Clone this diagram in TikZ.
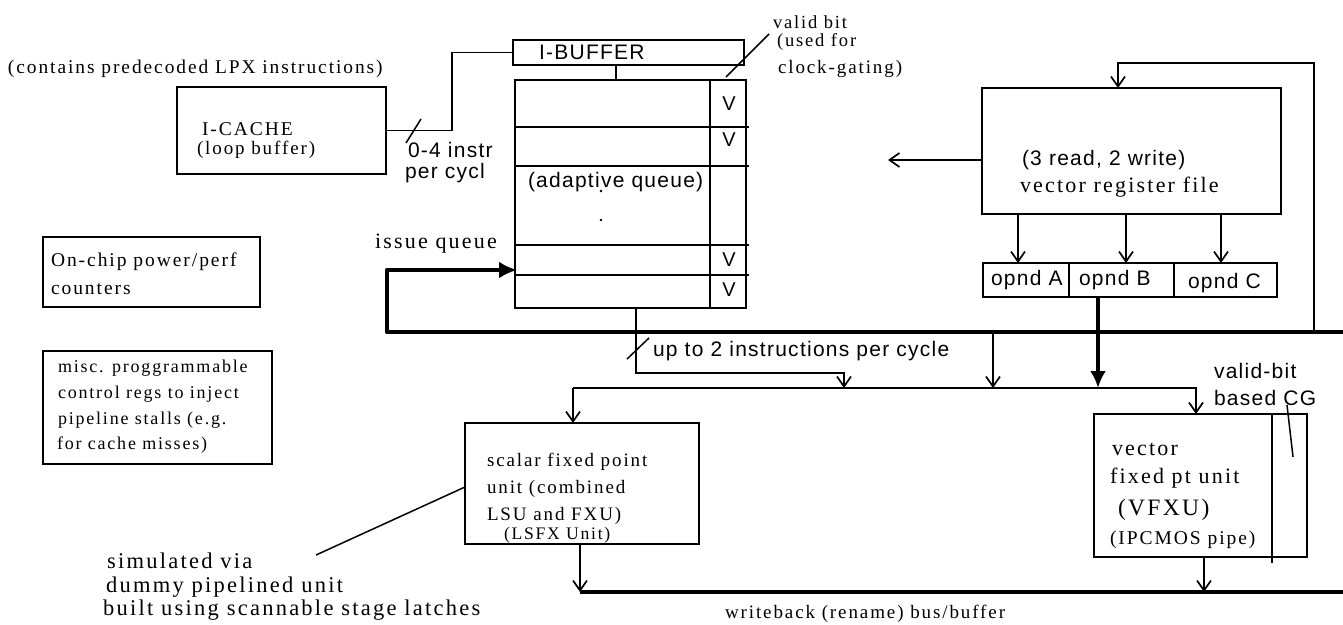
\documentclass[tikz,border=0pt]{standalone}
\usepackage{fontspec}
\setmainfont{Liberation Serif}[LetterSpace=10]
\setsansfont{Liberation Sans}[LetterSpace=6]
\usetikzlibrary{arrows.meta}
\newcommand{\myfs}[1]{\fontsize{#1}{#1}\selectfont}
\begin{document}
\begin{tikzpicture}[x=1pt,y=-1pt,
  ln/.style={line width=1.5pt},
  box/.style={draw,line width=1.5pt,inner sep=0,outer sep=0,rectangle},
  T/.style={inner sep=0,outer sep=0,anchor=base west},
  sr/.style={T,font=\rmfamily\myfs{#1}},
  ss/.style={T,font=\sffamily\myfs{#1}},
  arr/.style={ln,-{Straight Barb[length=10pt,width=14pt,line width=1.7pt]}},
  bus/.style={line width=4.5pt},
]
\fill[white] (0,0) rectangle (1343,624);
\useasboundingbox (0,0) rectangle (1343,624);

% ---------- boxes
\node[box,minimum width=209pt,minimum height=87pt] (icache) at (281.5,130.5) {};
\node[box,minimum width=231pt,minimum height=25pt] (ibuf) at (628.5,52.5) {};
\node[box,minimum width=231pt,minimum height=228pt] (queue) at (630.5,194) {};
\node[box,minimum width=299pt,minimum height=126pt] (vrf) at (1131.5,151) {};
\node[box,minimum width=86pt,minimum height=34pt] (opA) at (1026,280) {};
\node[box,minimum width=105pt,minimum height=34pt] (opB) at (1121.5,280) {};
\node[box,minimum width=103pt,minimum height=34pt] (opC) at (1225.5,280) {};
\node[box,minimum width=217pt,minimum height=70pt] (onchip) at (151.5,272) {};
\node[box,minimum width=229pt,minimum height=113pt] (misc) at (157.5,407.5) {};
\node[box,minimum width=234pt,minimum height=121pt] (scalar) at (582,483.5) {};
\node[box,minimum width=213pt,minimum height=143pt] (vfxu) at (1200.5,485.5) {};

% ---------- queue internals
\draw[ln] (710,80) -- (710,308);
\foreach \yy in {127,166,245,275} \draw[ln] (515,\yy) -- (749,\yy);
\node[ss=20,anchor=center] (v1) at (729,104) {V};
\node[ss=20,anchor=center] (v2) at (729,140) {V};
\node[ss=20,anchor=center] (v3) at (729,260) {V};
\node[ss=20,anchor=center] (v4) at (729,290) {V};
\fill (601,191) circle (1.4);
\fill (601,220) circle (1.4);
% VFXU valid-bit column
\draw[ln] (1272,414) -- (1272,563);

% ---------- named points
\coordinate (x616) at (616,0);
\coordinate (fbR) at (1314,332);
\coordinate (fbtop) at (1118,63);
\coordinate (vrfout) at (888,160);
\coordinate (xA) at (1018,0);
\coordinate (xB) at (1126,0);
\coordinate (xC) at (1221,0);
\coordinate (tx) at (1098,0);
\coordinate (busR) at (1343,332);
\coordinate (busL) at (387,332);
\coordinate (qin) at (517,270);
\coordinate (qo) at (636,373);
\coordinate (qa) at (844,388);
\coordinate (bd1) at (993,332);
\coordinate (bd2) at (993,388);
\coordinate (dL) at (573,388);
\coordinate (dR) at (1196,388);
\coordinate (so) at (580,592);
\coordinate (wbR) at (1343,592);
\coordinate (vo) at (1204,592);

% ---------- connectors
\draw[ln] (icache.east) -- ++(66,0) |- (ibuf.west);
\draw[ln] (406,143) -- (421,119);
\draw[ln] (ibuf.south -| x616) -- (queue.north -| x616);
\draw[arr] (fbR) |- (fbtop) -- (fbtop |- vrf.north);
\draw[arr] (vrf.west |- vrfout) -- (vrfout);
\draw[arr] (vrf.south -| xA) -- (opA.north -| xA);
\draw[arr] (vrf.south -| xB) -- (opB.north -| xB);
\draw[arr] (vrf.south -| xC) -- (opC.north -| xC);
\draw[bus,-{Latex[length=17pt,width=16pt]}] (opB.south -| tx) -- (tx |- dL);
\draw[bus,line join=round,-{Latex[length=18pt,width=17pt]}] (busR) -- (busL) |- (qin);
\draw[arr] (queue.south -| qo) -- (qo) -| (qa);
\draw[ln] (627,359) -- (649,338);
\draw[arr] (bd1) -- (bd2);
\draw[arr] (dL) -- (dL |- scalar.north);
\draw[arr] (dL) -- (dR) -- (dR |- vfxu.north);
\draw[arr] (scalar.south -| so) -- (so);
\draw[bus] (so) -- (wbR);
\draw[arr] (vfxu.south -| vo) -- (vo);
% leader lines
\draw[ln] (726,77) -- (769,34);
\draw[ln] (1287,405) -- (1293,457);
\draw[ln] (scalar.west |- 0,487) -- (316,555);

% ---------- texts
\node[sr=19.4] (tcont) at (8,73) {(contains predecoded LPX instructions)};
\node[sr=19.5] (ticache) at (202,135.5) {I-CACHE};
\node[sr=19] (tloop) at (197,154) {(loop buffer)};
\node[ss=21] (tibuf) at (539,59) {I-BUFFER};
\node[sr=18.5] (tvb1) at (773,28) {valid bit};
\node[sr=18.5] (tvb2) at (777,46) {(used for};
\node[sr=19] (tvb3) at (778,73) {clock-gating)};
\node[ss=21] (t04) at (408,157.5) {0-4 instr};
\node[ss=21] (tpc) at (405,178) {per cycl};
\node[ss=21] (tadq) at (528,187) {(adaptive queue)};
\node[sr=22] (tiq) at (375,248) {issue queue};
\node[ss=21] (t3r) at (1022,165) {(3 read, 2 write)};
\node[sr=22] (tvrf) at (1020,192) {vector register file};
\node[ss=21] (tA) at (991,285) {opnd A};
\node[ss=21] (tB) at (1079,285) {opnd B};
\node[ss=21] (tC) at (1188,288) {opnd C};
\node[ss=21] (tup) at (653,356) {up to 2 instructions per cycle};
\node[ss=21] (tvb4) at (1214,378) {valid-bit};
\node[ss=21] (tvb5) at (1214,405) {based CG};
\node[sr=19.5] (ton1) at (51,266) {On-chip power/perf};
\node[sr=19.5] (ton2) at (51,294) {counters};
\node[sr=18] (tm1) at (58,372) {misc. proggrammable};
\node[sr=18] (tm2) at (58,398) {control regs to inject};
\node[sr=18] (tm3) at (58,424) {pipeline stalls (e.g.};
\node[sr=18] (tm4) at (57,449) {for cache misses)};
\node[sr=19] (ts1) at (487,466) {scalar fixed point};
\node[sr=19] (ts2) at (487,493) {unit (combined};
\node[sr=19] (ts3) at (487,520) {LSU and FXU)};
\node[sr=17.6] (ts4) at (504,539) {(LSFX Unit)};
\node[sr=22.5] (tsim1) at (107,568) {simulated via};
\node[sr=22.5] (tsim2) at (106,592) {dummy pipelined unit};
\node[sr=22.5] (tsim3) at (103,615) {built using scannable stage latches};
\node[sr=22] (tv1) at (1112,455) {vector};
\node[sr=22] (tv2) at (1110,483) {fixed pt unit};
\node[sr=23.5] (tv3) at (1118,515) {(VFXU)};
\node[sr=19.5] (tv4) at (1110,544) {(IPCMOS pipe)};
\node[sr=19] (twb) at (725,618) {writeback (rename) bus/buffer};
\end{tikzpicture}
\end{document}
